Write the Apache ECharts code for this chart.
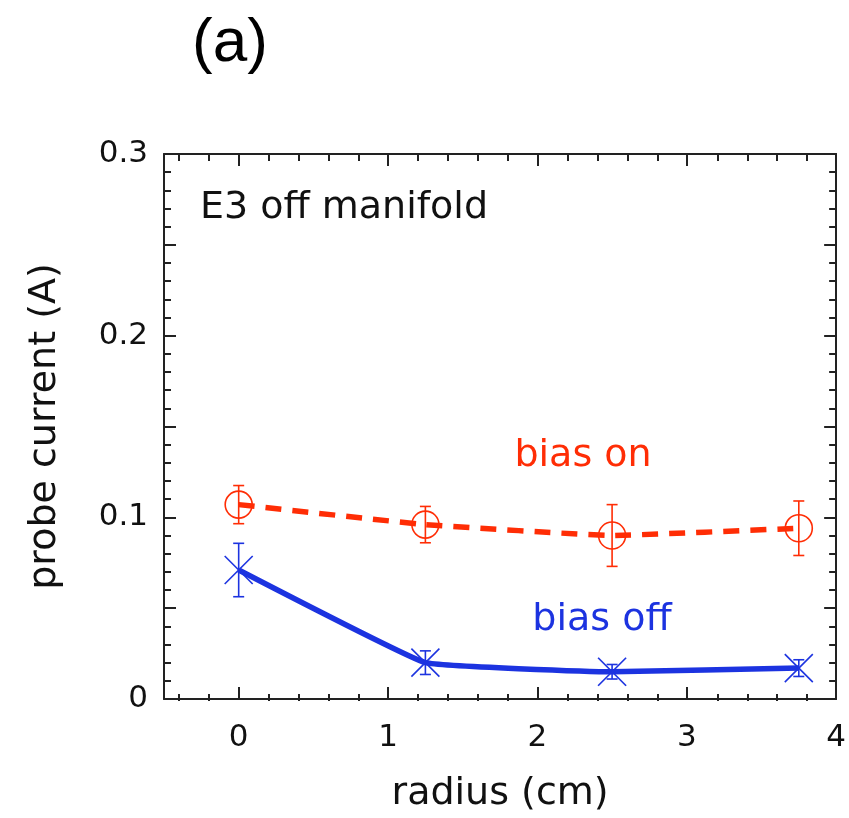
<!DOCTYPE html>
<html>
<head>
<meta charset="utf-8">
<script src="https://cdn.jsdelivr.net/npm/echarts@6/dist/echarts.min.js"></script>
<style>
  html, body { margin: 0; padding: 0; background: #fff; }
  #chart { width: 849px; height: 818px; }
</style>
</head>
<body>
<div id="chart"></div>
<script>
// Probe current vs. radius, E3 off manifold
const radius = [0, 1.25, 2.5, 3.75];
const biasOn = [0.107, 0.096, 0.090, 0.094];
const biasOnErr = [0.0105, 0.010, 0.017, 0.015];
const biasOff = [0.071, 0.020, 0.015, 0.017];
const biasOffErr = [0.0147, 0.0065, 0.004, 0.0046];

const xMajorTicks = [0, 1, 2, 3, 4];
const xMinorTicks = [-0.4, -0.2, 0.2, 0.4, 0.6, 0.8, 1.2, 1.4, 1.6, 1.8,
  2.2, 2.4, 2.6, 2.8, 3.2, 3.4, 3.6, 3.8];
const yLabelValues = [0, 0.1, 0.2, 0.3];

const RED = '#ff2d05';
const BLUE = '#1c33e0';
const AXIS = '#222';
const FONT = 'DejaVu Sans';

const gridBox = { left: 164, right: 12, top: 154, bottom: 117, containLabel: false };

function errorBars(marker, color) {
  return function (params, api) {
    const x = api.value(0), y = api.value(1), e = api.value(2);
    const c = api.coord([x, y]);
    const hi = api.coord([x, y + e]);
    const lo = api.coord([x, y - e]);
    const cap = 5.5;
    const st = { stroke: color, lineWidth: 1.6 };
    const kids = [
      { type: 'line', shape: { x1: c[0], y1: hi[1], x2: c[0], y2: lo[1] }, style: st },
      { type: 'line', shape: { x1: c[0] - cap, y1: hi[1], x2: c[0] + cap, y2: hi[1] }, style: st },
      { type: 'line', shape: { x1: c[0] - cap, y1: lo[1], x2: c[0] + cap, y2: lo[1] }, style: st }
    ];
    if (marker === 'circle') {
      kids.push({ type: 'circle', shape: { cx: c[0], cy: c[1], r: 13.5 },
        style: { fill: 'none', stroke: color, lineWidth: 1.6 } });
    } else {
      const h = 14;
      kids.push({ type: 'line', shape: { x1: c[0] - h, y1: c[1] - h, x2: c[0] + h, y2: c[1] + h }, style: st });
      kids.push({ type: 'line', shape: { x1: c[0] - h, y1: c[1] + h, x2: c[0] + h, y2: c[1] - h }, style: st });
    }
    return { type: 'group', children: kids };
  };
}

const majorX = (pos, showLabel) => ({
  type: 'value', gridIndex: 0, position: pos, min: -0.5, max: 4,
  axisLine: { show: true, onZero: false, lineStyle: { color: AXIS, width: 2 } },
  axisTick: { show: true, inside: true, length: 12, customValues: xMajorTicks,
    lineStyle: { color: AXIS, width: 2 } },
  axisLabel: { show: showLabel, customValues: xMajorTicks, fontFamily: FONT,
    fontSize: 31, color: '#111', margin: 23 },
  splitLine: { show: false },
  name: showLabel ? 'radius (cm)' : '',
  nameLocation: 'middle', nameGap: 76,
  nameTextStyle: { fontFamily: FONT, fontSize: 38, color: '#111' }
});
const minorX = (pos) => ({
  type: 'value', gridIndex: 1, position: pos, min: -0.5, max: 4,
  axisLine: { show: false, onZero: false },
  axisTick: { show: true, inside: true, length: 7, customValues: xMinorTicks,
    lineStyle: { color: AXIS, width: 2 } },
  axisLabel: { show: false },
  splitLine: { show: false }
});
const majorY = (pos, showLabel) => ({
  type: 'value', gridIndex: 0, position: pos, min: 0, max: 0.3, interval: 0.05,
  axisLine: { show: true, onZero: false, lineStyle: { color: AXIS, width: 2 } },
  axisTick: { show: true, inside: true, length: 12, lineStyle: { color: AXIS, width: 2 } },
  minorTick: { show: true, splitNumber: 5, length: 7, lineStyle: { color: AXIS, width: 2 } },
  axisLabel: {
    show: showLabel, fontFamily: FONT, fontSize: 31, color: '#111', margin: 16,
    padding: [0, 0, 10, 0],
    formatter: function (v) {
      const hit = yLabelValues.find(t => Math.abs(t - v) < 1e-9);
      return hit === undefined ? '' : String(hit);
    }
  },
  splitLine: { show: false },
  minorSplitLine: { show: false },
  name: showLabel ? 'probe current (A)' : '',
  nameLocation: 'middle', nameGap: 100,
  nameTextStyle: { fontFamily: FONT, fontSize: 38, color: '#111' }
});

const chart = echarts.init(document.getElementById('chart'), null, { renderer: 'canvas' });
chart.setOption({
  backgroundColor: '#fff',
  animation: false,
  grid: [Object.assign({}, gridBox), Object.assign({}, gridBox)],
  xAxis: [majorX('bottom', true), majorX('top', false), minorX('bottom'), minorX('top')],
  yAxis: [majorY('left', true), majorY('right', false),
    { type: 'value', gridIndex: 1, min: 0, max: 0.3, show: false }],
  graphic: [
    { type: 'text', left: 192, top: 13,
      style: { text: '(a)', font: '62px "Liberation Sans"', fill: '#000' } },
    { type: 'text', x: 200, y: 208,
      style: { text: 'E3 off manifold', fontFamily: FONT, fontSize: 38, fill: '#111',
        verticalAlign: 'middle', align: 'left' } },
    { type: 'text', x: 583, y: 456,
      style: { text: 'bias on', fontFamily: FONT, fontSize: 38, fill: RED,
        verticalAlign: 'middle', align: 'center' } },
    { type: 'text', x: 602, y: 620,
      style: { text: 'bias off', fontFamily: FONT, fontSize: 38, fill: BLUE,
        verticalAlign: 'middle', align: 'center' } }
  ],
  series: [
    {
      name: 'bias on', type: 'line', xAxisIndex: 0, yAxisIndex: 0,
      data: radius.map((x, i) => [x, biasOn[i]]),
      smooth: 0.1, showSymbol: false, z: 3,
      lineStyle: { color: RED, width: 5.5, type: [16, 11] }
    },
    {
      name: 'bias off', type: 'line', xAxisIndex: 0, yAxisIndex: 0,
      data: radius.map((x, i) => [x, biasOff[i]]),
      smooth: 0.08, showSymbol: false, z: 3,
      lineStyle: { color: BLUE, width: 5.5 }
    },
    {
      name: 'bias on error', type: 'custom', xAxisIndex: 0, yAxisIndex: 0, z: 4,
      renderItem: errorBars('circle', RED),
      data: radius.map((x, i) => [x, biasOn[i], biasOnErr[i]])
    },
    {
      name: 'bias off error', type: 'custom', xAxisIndex: 0, yAxisIndex: 0, z: 4,
      renderItem: errorBars('cross', BLUE),
      data: radius.map((x, i) => [x, biasOff[i], biasOffErr[i]])
    }
  ]
});
</script>
</body>
</html>
